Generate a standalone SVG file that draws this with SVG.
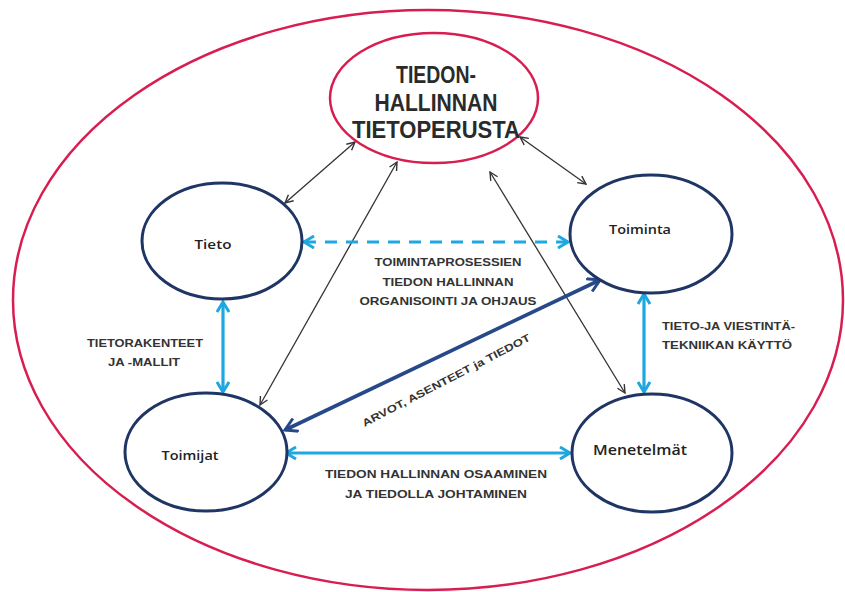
<svg xmlns="http://www.w3.org/2000/svg" width="845" height="592" viewBox="0 0 845 592">
<style>
.outer{fill:none;stroke:#d81e50;stroke-width:2.5}
.node{fill:#fff;stroke:#1f3564;stroke-width:3}
.nlabel{font-family:"Open Sans","Liberation Sans",sans-serif;font-weight:600;fill:#222;text-anchor:middle}
.lbl{font-family:"Liberation Sans","DejaVu Sans",sans-serif;font-weight:bold;fill:#333;font-size:10.5px}
.thin{stroke:#333;stroke-width:1.3;fill:none;marker-start:url(#ak);marker-end:url(#ak)}
.blue{stroke:#1ea7e1;stroke-width:3.2;fill:none;marker-start:url(#ab);marker-end:url(#ab)}
.dash{stroke-dasharray:12 9;stroke-width:2.8}
.navy{stroke:#27498a;stroke-width:3.6;fill:none;marker-start:url(#an);marker-end:url(#an)}
</style>
<defs>
<marker id="ak" viewBox="0 0 10 10" refX="9" refY="5" markerWidth="10" markerHeight="10" markerUnits="userSpaceOnUse" orient="auto-start-reverse"><path d="M1,1 L9,5 L1,9" fill="none" stroke="#333" stroke-width="1.4"/></marker>
<marker id="ab" viewBox="0 0 14 14" refX="12" refY="7" markerWidth="14" markerHeight="14" markerUnits="userSpaceOnUse" orient="auto-start-reverse"><path d="M2,1 L12,7 L2,13" fill="none" stroke="#1ea7e1" stroke-width="3"/></marker>
<marker id="an" viewBox="0 0 16 16" refX="14" refY="8" markerWidth="16" markerHeight="16" markerUnits="userSpaceOnUse" orient="auto-start-reverse"><path d="M2,1 L14,8 L2,15" fill="none" stroke="#27498a" stroke-width="3"/></marker>
</defs>
<rect width="845" height="592" fill="#fff"/>
<ellipse class="outer" cx="428" cy="300" rx="415" ry="290"/>
<g id="connectors">
<line class="thin" x1="285" y1="203" x2="355" y2="142"/>
<line class="thin" x1="260" y1="405" x2="397" y2="162"/>
<line class="thin" x1="520" y1="137" x2="586" y2="184"/>
<line class="thin" x1="490" y1="172" x2="625" y2="393"/>
<line class="blue dash" x1="304" y1="242" x2="568" y2="242"/>
<line class="blue" x1="223" y1="302" x2="223" y2="392"/>
<line class="blue" x1="644" y1="294" x2="644" y2="392"/>
<line class="blue" x1="286" y1="453" x2="570" y2="453"/>
<line class="navy" x1="285" y1="430" x2="600" y2="280"/>
</g>
<g id="top">
<ellipse cx="434" cy="98" rx="104" ry="65" fill="#fff" stroke="#d81e50" stroke-width="2.5"/>
<g font-family="'Liberation Sans',Arial,sans-serif" font-weight="bold" font-size="23" fill="#2a2a2a" text-anchor="middle">
<text x="436" y="83" textLength="80" lengthAdjust="spacingAndGlyphs">TIEDON-</text>
<text x="436" y="111" textLength="123" lengthAdjust="spacingAndGlyphs">HALLINNAN</text>
<text x="436" y="138" textLength="168" lengthAdjust="spacingAndGlyphs">TIETOPERUSTA</text>
</g>
</g>
<g id="tieto">
<ellipse class="node" cx="222" cy="241" rx="80" ry="58"/>
<text class="nlabel" x="213" y="249" font-size="12.5" textLength="37" lengthAdjust="spacingAndGlyphs">Tieto</text>
</g>
<g id="toiminta">
<ellipse class="node" cx="651" cy="234" rx="81" ry="59"/>
<text class="nlabel" x="640" y="234" font-size="12.5" textLength="62" lengthAdjust="spacingAndGlyphs">Toiminta</text>
</g>
<g id="toimijat">
<ellipse class="node" cx="206" cy="452" rx="81" ry="59"/>
<text class="nlabel" x="190" y="460" font-size="12.5" textLength="57" lengthAdjust="spacingAndGlyphs">Toimijat</text>
</g>
<g id="menetelmat">
<ellipse class="node" cx="652" cy="453" rx="80" ry="59"/>
<text class="nlabel" x="640" y="455" font-size="14" textLength="94" lengthAdjust="spacingAndGlyphs">Menetelmät</text>
</g>
<g id="labels">
<text class="lbl" x="448" y="266" text-anchor="middle" textLength="147" lengthAdjust="spacingAndGlyphs">TOIMINTAPROSESSIEN</text>
<text class="lbl" x="448" y="286" text-anchor="middle" textLength="131" lengthAdjust="spacingAndGlyphs">TIEDON HALLINNAN</text>
<text class="lbl" x="448" y="305" text-anchor="middle" textLength="177" lengthAdjust="spacingAndGlyphs">ORGANISOINTI JA OHJAUS</text>
<text class="lbl" x="145" y="347" text-anchor="middle" textLength="116" lengthAdjust="spacingAndGlyphs">TIETORAKENTEET</text>
<text class="lbl" x="144" y="366" text-anchor="middle" textLength="72" lengthAdjust="spacingAndGlyphs">JA -MALLIT</text>
<text class="lbl" x="662" y="330" textLength="133" lengthAdjust="spacingAndGlyphs">TIETO-JA VIESTINTÄ-</text>
<text class="lbl" x="662" y="349" textLength="130" lengthAdjust="spacingAndGlyphs">TEKNIIKAN  KÄYTTÖ</text>
<text class="lbl" x="436" y="478" text-anchor="middle" textLength="222" lengthAdjust="spacingAndGlyphs">TIEDON HALLINNAN OSAAMINEN</text>
<text class="lbl" x="436" y="498" text-anchor="middle" textLength="182" lengthAdjust="spacingAndGlyphs">JA TIEDOLLA  JOHTAMINEN</text>
<text class="lbl" x="446" y="384" text-anchor="middle" transform="rotate(-27.5 446 380)" textLength="188" lengthAdjust="spacingAndGlyphs">ARVOT, ASENTEET ja TIEDOT</text>
</g>
</svg>
